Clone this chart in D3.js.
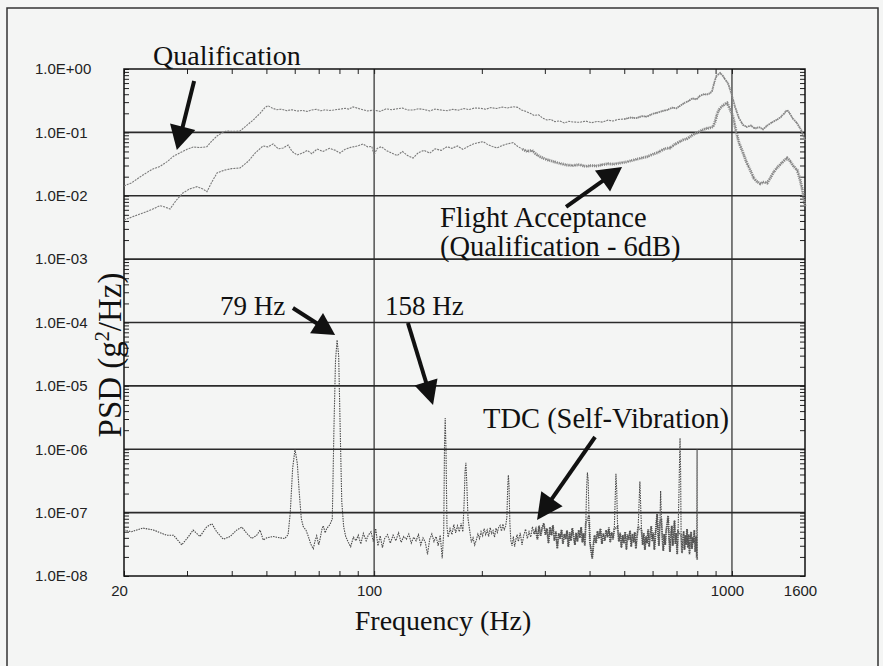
<!DOCTYPE html>
<html>
<head>
<meta charset="utf-8">
<script src="https://cdn.jsdelivr.net/npm/d3@7"></script>
<style>
  html, body { margin: 0; padding: 0; background: #f4f5f4; }
  svg { display: block; }
  .tick line { stroke: #222; stroke-width: 1; }
  .lbl text { font-family: "Liberation Sans", Arial, sans-serif; font-size: 15px; fill: #222; }
  .note { font-family: "Liberation Serif", "Times New Roman", serif; fill: #111; }
</style>
</head>
<body>
<div id="chart"></div>
<script>
// Qualification PSD (g^2/Hz)
const qualFreq = [20, 21, 22.6, 24, 25.2, 26.4, 27.5, 28.7, 30, 31.2, 32.6, 34.1, 35.2, 36.4, 37.5, 38.7, 40.4, 42.2,
  44, 46, 48, 49.5, 50.5, 52, 53.5, 55, 57, 59, 61, 63, 65, 67, 69, 71, 73, 75, 77, 80, 83, 85, 87.3, 90, 93, 96,
  100, 104, 108, 112, 116, 120, 124, 128.5, 133, 138, 143, 148, 154, 160, 166, 172, 178, 184, 191, 198, 205, 212,
  220, 228, 236, 244.6, 252, 258, 265, 272.8, 280, 288, 296, 304, 312, 320, 330, 340, 350, 360, 376, 390, 405, 420,
  435, 450, 465, 480, 500, 520, 540, 560, 579, 600, 620, 640, 660, 680, 700, 716, 735, 755, 775, 795, 815, 835, 850,
  868, 880, 893, 905, 916, 927, 940, 955, 975, 995, 1020, 1045, 1074, 1100, 1130, 1160, 1190, 1222, 1250, 1280, 1303,
  1340, 1370, 1400, 1426, 1450, 1480, 1521, 1560, 1600];
const qualPsd = [0.0143, 0.016, 0.0213, 0.0262, 0.029, 0.0345, 0.042, 0.0478, 0.054, 0.0588, 0.0575, 0.0594, 0.073,
  0.0877, 0.098, 0.105, 0.104, 0.105, 0.128, 0.158, 0.2, 0.245, 0.264, 0.24, 0.228, 0.232, 0.22, 0.228, 0.217, 0.222,
  0.214, 0.226, 0.231, 0.219, 0.227, 0.222, 0.225, 0.232, 0.24, 0.233, 0.252, 0.24, 0.228, 0.218, 0.225, 0.214, 0.235,
  0.228, 0.236, 0.242, 0.226, 0.225, 0.236, 0.229, 0.218, 0.233, 0.225, 0.22, 0.231, 0.224, 0.238, 0.229, 0.243, 0.24,
  0.232, 0.246, 0.238, 0.25, 0.243, 0.254, 0.248, 0.226, 0.215, 0.2, 0.185, 0.19, 0.168, 0.157, 0.16, 0.148, 0.152,
  0.141, 0.149, 0.146, 0.144, 0.151, 0.142, 0.149, 0.145, 0.156, 0.151, 0.16, 0.162, 0.171, 0.168, 0.18, 0.177, 0.196,
  0.205, 0.218, 0.226, 0.245, 0.24, 0.262, 0.29, 0.31, 0.345, 0.33, 0.38, 0.4, 0.395, 0.414, 0.45, 0.62, 0.78, 0.82,
  0.86, 0.8, 0.7, 0.595, 0.42, 0.254, 0.17, 0.131, 0.122, 0.128, 0.115, 0.121, 0.112, 0.126, 0.138, 0.147, 0.16, 0.175,
  0.2, 0.225, 0.2, 0.165, 0.139, 0.11, 0.0758];

// Flight acceptance PSD (g^2/Hz)
const flightFreq = [20, 21, 22.5, 24, 25.2, 26.1, 26.9, 28, 29.2, 30.5, 32, 33.2, 34.1, 35.2, 36.4, 38, 40, 42.2, 44.5,
  46.5, 48.9, 50.5, 52.2, 54, 55.7, 57.5, 59, 60.9, 63, 65, 67, 69.3, 72, 75, 78, 80.3, 83, 86, 90, 93.1, 96, 98.5,
  100, 102, 104.8, 108, 112, 116, 120, 124, 128.5, 133, 138, 143, 148, 154, 159.9, 165, 171, 177, 183, 190, 196, 201.6,
  208, 214, 220.5, 228, 236, 244.6, 252, 260, 268, 276, 284, 291, 300, 310, 320, 333, 346, 360, 375, 390, 405, 419.8,
  435, 450, 465, 486.6, 505, 525, 545, 560, 579, 600, 620, 640, 655, 671.4, 690, 710, 730, 750, 770, 785, 799, 815,
  830, 845, 860, 875, 885.6, 898, 910, 925, 940, 955, 969, 985, 1007, 1025, 1045, 1074, 1100, 1130, 1150, 1175, 1200,
  1230, 1254, 1280, 1310, 1340, 1370, 1400, 1426, 1450, 1480, 1521, 1550, 1575, 1600];
const flightPsd = [0.00414, 0.0046, 0.0053, 0.0061, 0.00697, 0.0066, 0.00618, 0.0085, 0.01105, 0.0128, 0.0139, 0.0128,
  0.01158, 0.0165, 0.0229, 0.0252, 0.0268, 0.0274, 0.035, 0.047, 0.061, 0.059, 0.0656, 0.055, 0.0567, 0.063, 0.05,
  0.044, 0.047, 0.052, 0.046, 0.0547, 0.05, 0.056, 0.052, 0.0473, 0.054, 0.058, 0.061, 0.0656, 0.059, 0.06, 0.044,
  0.056, 0.0594, 0.052, 0.047, 0.043, 0.05, 0.043, 0.0394, 0.048, 0.052, 0.047, 0.055, 0.052, 0.0594, 0.056, 0.061,
  0.054, 0.06, 0.066, 0.069, 0.0713, 0.064, 0.06, 0.0567, 0.062, 0.066, 0.0687, 0.06, 0.054, 0.05, 0.052, 0.045,
  0.0413, 0.038, 0.036, 0.034, 0.032, 0.0305, 0.03, 0.031, 0.029, 0.03, 0.0295, 0.031, 0.032, 0.0315, 0.0329, 0.034,
  0.036, 0.038, 0.0395, 0.0413, 0.045, 0.048, 0.053, 0.056, 0.0567, 0.064, 0.07, 0.076, 0.08, 0.088, 0.095, 0.0978,
  0.105, 0.11, 0.115, 0.117, 0.12, 0.123, 0.15, 0.2, 0.24, 0.26, 0.28, 0.2907, 0.24, 0.177, 0.11, 0.07, 0.0473, 0.033,
  0.024, 0.019, 0.0167, 0.0155, 0.0165, 0.0159, 0.019, 0.024, 0.028, 0.032, 0.036, 0.0394, 0.036, 0.03, 0.0255, 0.018,
  0.012, 0.00672];

// TDC self-vibration PSD (g^2/Hz)
const tdcFreq = [20, 21, 22.6, 24.2, 26.3, 27.5, 29, 30.2, 31.2, 32.6, 34, 35.2, 36.3, 37.9, 39.6, 41.3, 42.7, 44.1,
  45.5, 47, 48, 49, 50.1, 52.3, 54.6, 56.3, 57.5, 58.3, 59.2, 60.1, 61, 61.8, 62.6, 63.4, 64.5, 65.5, 66.5, 67.6, 68.4,
  69.1, 70, 70.6, 71.5, 72.1, 73, 73.7, 75.3, 76.4, 77.2, 78, 78.8, 79.6, 80.4, 81.2, 82.2, 83.3, 84.7, 86, 87.5, 89,
  90.3, 91.8, 93.3, 95, 96.3, 98, 99.5, 101, 102.5, 104, 105.5, 107, 109, 111, 113, 115, 117, 119, 121, 123, 125, 127,
  129, 131, 133, 135, 137, 139, 141, 143, 145, 147, 149, 151, 153, 155, 156.5, 157.3, 158, 158.8, 159.8, 161, 163, 165,
  167, 169, 171, 173, 175, 177, 178.5, 179.5, 180.5, 181.5, 183, 185, 187, 189, 191, 193, 195, 197, 199, 201, 203, 205,
  207, 209, 211, 213, 215, 217, 219, 221, 223, 225, 227, 229, 231, 233, 235, 236.2, 237.2, 238.2, 239.5, 241, 243, 245,
  247, 249, 251, 253, 256, 259, 262, 265, 268, 271, 274, 277, 280, 283, 286, 289, 292, 295, 298, 301, 304, 307, 310,
  313, 316, 319, 322, 325, 328, 331, 334, 337, 340, 343, 346, 349, 352, 355, 358, 361, 364, 367, 370, 373, 376, 379,
  382, 385, 388, 390.5, 392.5, 394.5, 396.5, 398.5, 401, 404, 407, 410, 413, 417, 421, 425, 429, 433, 437, 441, 445,
  449, 453, 457, 461, 465, 469, 471.5, 474, 476.5, 479, 483, 487, 491, 495, 499, 503, 507, 511, 515, 519, 523, 527,
  531, 535, 539, 543, 547, 550, 553, 556, 559, 563, 567, 571, 575, 579, 583, 587, 591, 595, 599, 603, 607, 611, 615,
  618, 621, 625, 629, 632, 635, 639, 643, 647, 651, 655, 659, 663, 667, 671, 675, 679, 683, 687, 691, 695, 699, 703,
  707, 711, 713.5, 716, 718.5, 721, 725, 729, 733, 737, 741, 745, 749, 753, 757, 761, 765, 769, 773, 777, 781, 785,
  789, 793, 795, 797, 799, 800];
const tdcPsd = [5.3e-8, 5.0e-8, 5.7e-8, 5.3e-8, 4.4e-8, 4.4e-8, 3.1e-8, 4.1e-8, 5.3e-8, 4.2e-8, 5.9e-8, 6.7e-8,
  5.0e-8, 3.8e-8, 4.2e-8, 5.3e-8, 5.9e-8, 4.7e-8, 3.9e-8, 4.4e-8, 5.3e-8, 3.7e-8, 4.0e-8, 4.2e-8, 4.0e-8, 3.9e-8,
  4.5e-8, 1.0e-7, 5e-7, 1.0e-6, 6e-7, 2.0e-7, 8e-8, 6.0e-8, 5.3e-8, 4.2e-8, 3.2e-8, 2.7e-8, 3.6e-8, 4.3e-8, 3.1e-8,
  3.8e-8, 5.5e-8, 6.2e-8, 4.8e-8, 5.6e-8, 6.5e-8, 8e-8, 2e-6, 2.5e-5, 5.3e-5, 3.0e-5, 2e-6, 1.5e-7, 6e-8, 4.2e-8,
  3.4e-8, 2.9e-8, 4.1e-8, 3.6e-8, 4.4e-8, 3.2e-8, 4.7e-8, 3.6e-8, 4.4e-8, 5.0e-8, 3.5e-8, 5.6e-8, 3.0e-8, 4.3e-8,
  2.8e-8, 3.9e-8, 4.5e-8, 3.3e-8, 4.4e-8, 3.6e-8, 4.8e-8, 3.4e-8, 4.2e-8, 3.8e-8, 4.6e-8, 3.3e-8, 4.1e-8, 3.6e-8,
  4.5e-8, 3.1e-8, 4.0e-8, 3.4e-8, 2.2e-8, 3.8e-8, 4.6e-8, 3.5e-8, 4.2e-8, 3.0e-8, 4.4e-8, 1.9e-8, 5e-8, 1.2e-6,
  3.1e-6, 1.0e-6, 6e-8, 4.1e-8, 5.6e-8, 4.5e-8, 6.5e-8, 4.8e-8, 6.2e-8, 5.0e-8, 6.8e-8, 5.0e-8, 1.5e-7, 4.5e-7,
  6.1e-7, 3.0e-7, 8e-8, 5.2e-8, 3.4e-8, 4.0e-8, 3.1e-8, 3.7e-8, 4.6e-8, 3.9e-8, 5.0e-8, 4.3e-8, 5.6e-8, 4.5e-8,
  5.3e-8, 4.2e-8, 5.8e-8, 4.7e-8, 5.2e-8, 4.1e-8, 5.7e-8, 4.9e-8, 5.9e-8, 6.3e-8, 5.1e-8, 6.6e-8, 5.4e-8, 6.0e-8,
  8.5e-8, 2.5e-7, 3.9e-7, 2.8e-7, 7e-8, 3.6e-8, 3.0e-8, 4.2e-8, 2.9e-8, 3.8e-8, 4.5e-8, 3.5e-8, 4.8e-8, 3.1e-8,
  4.4e-8, 5.5e-8, 3.9e-8, 5.0e-8, 4.1e-8, 6.0e-8, 4.6e-8, 5.4e-8, 3.8e-8, 6.2e-8, 4.3e-8, 5.8e-8, 6.8e-8, 4.5e-8,
  5.6e-8, 3.3e-8, 5.9e-8, 4.4e-8, 6.3e-8, 3.6e-8, 5.0e-8, 2.7e-8, 4.7e-8, 3.9e-8, 5.4e-8, 3.2e-8, 4.6e-8, 3.8e-8,
  5.2e-8, 2.9e-8, 4.9e-8, 3.6e-8, 5.7e-8, 4.2e-8, 3.1e-8, 4.8e-8, 3.5e-8, 5.3e-8, 4.0e-8, 5.9e-8, 3.4e-8, 4.7e-8,
  3.0e-8, 7e-8, 2.5e-7, 4.3e-7, 3.2e-7, 9e-8, 3.4e-8, 2.5e-8, 1.9e-8, 3.1e-8, 4.4e-8, 3.3e-8, 5.1e-8, 3.9e-8, 5.6e-8,
  3.2e-8, 4.7e-8, 3.6e-8, 5.3e-8, 4.1e-8, 5.8e-8, 3.4e-8, 4.9e-8, 3.8e-8, 5.5e-8, 1.5e-7, 4.1e-7, 2.2e-7, 6e-8,
  3.5e-8, 4.8e-8, 2.8e-8, 4.4e-8, 3.3e-8, 5.0e-8, 2.6e-8, 4.5e-8, 3.7e-8, 5.2e-8, 2.9e-8, 4.6e-8, 3.4e-8, 4.9e-8,
  2.7e-8, 4.3e-8, 6.0e-8, 1.4e-7, 3.1e-7, 1.2e-7, 5.2e-8, 3.1e-8, 4.7e-8, 2.6e-8, 4.2e-8, 3.3e-8, 5.4e-8, 2.9e-8,
  4.6e-8, 6.1e-8, 3.5e-8, 4.8e-8, 2.6e-8, 4.4e-8, 7.0e-8, 9.5e-8, 5.2e-8, 3.0e-8, 7e-8, 2.2e-7, 8e-8, 3.9e-8, 2.5e-8,
  4.6e-8, 3.1e-8, 5.3e-8, 6.5e-8, 9.0e-8, 4.0e-8, 2.4e-8, 4.5e-8, 6.2e-8, 3.0e-8, 4.3e-8, 7.5e-8, 3.2e-8, 4.8e-8,
  2.2e-8, 5.0e-8, 2.0e-7, 6e-7, 1.5e-6, 5e-7, 4.4e-8, 2.3e-8, 3.8e-8, 5.1e-8, 2.6e-8, 4.4e-8, 3.1e-8, 5.5e-8, 2.8e-8,
  4.5e-8, 2.2e-8, 3.9e-8, 5.0e-8, 2.7e-8, 4.1e-8, 3.3e-8, 5.3e-8, 2.4e-8, 4.0e-8, 4.2e-8, 2.0e-8, 1.0e-6, 1.8e-8,
  3.5e-8];

const xLabelTicks = [20, 100, 1000, 1600];
const yLabelTicks = [1, 1e-1, 1e-2, 1e-3, 1e-4, 1e-5, 1e-6, 1e-7, 1e-8];
const yLabelText = ["1.0E+00", "1.0E-01", "1.0E-02", "1.0E-03", "1.0E-04", "1.0E-05", "1.0E-06", "1.0E-07", "1.0E-08"];
const xGrid = [100, 1000];

const W = 883, H = 666;
const plot = { left: 124, right: 805, top: 69, bottom: 576 };

const svg = d3.select("#chart").append("svg").attr("width", W).attr("height", H);

// scanned-page frame
svg.append("rect").attr("x", 7).attr("y", 8).attr("width", 871).attr("height", 700)
  .attr("fill", "none").attr("stroke", "#333").attr("stroke-width", 1.5);

const x = d3.scaleLog().domain([20, 1600]).range([plot.left, plot.right]);
const y = d3.scaleLog().domain([1e-8, 1]).range([plot.bottom, plot.top]);

// grid
svg.append("g").selectAll("line").data(yLabelTicks.slice(1, -1)).join("line")
  .attr("x1", plot.left).attr("x2", plot.right)
  .attr("y1", d => y(d)).attr("y2", d => y(d))
  .attr("stroke", "#2a2a2a").attr("stroke-width", 1.6);
svg.append("g").selectAll("line").data(xGrid).join("line")
  .attr("x1", d => x(d)).attr("x2", d => x(d))
  .attr("y1", plot.top).attr("y2", plot.bottom)
  .attr("stroke", "#2a2a2a").attr("stroke-width", 1.2);

// minor ticks on all four sides, pointing inward
const noLabel = () => "";
svg.append("g").attr("transform", `translate(0,${plot.bottom})`)
  .call(d3.axisBottom(x).tickValues(x.ticks()).tickSize(-5).tickFormat(noLabel))
  .call(g => g.select(".domain").remove());
svg.append("g").attr("transform", `translate(0,${plot.top})`)
  .call(d3.axisTop(x).tickValues(x.ticks()).tickSize(-5).tickFormat(noLabel))
  .call(g => g.select(".domain").remove());
svg.append("g").attr("transform", `translate(${plot.left},0)`)
  .call(d3.axisLeft(y).tickValues(y.ticks()).tickSize(-5).tickFormat(noLabel))
  .call(g => g.select(".domain").remove());
svg.append("g").attr("transform", `translate(${plot.right},0)`)
  .call(d3.axisRight(y).tickValues(y.ticks()).tickSize(-5).tickFormat(noLabel))
  .call(g => g.select(".domain").remove());

// tick labels
svg.append("g").attr("class", "lbl").attr("transform", `translate(0,${plot.bottom})`)
  .call(d3.axisBottom(x).tickValues(xLabelTicks).tickSize(0).tickPadding(9).tickFormat(d3.format("d")))
  .call(g => g.select(".domain").remove())
  .call(g => g.selectAll("text").attr("dx", -5));
svg.append("g").attr("class", "lbl").attr("transform", `translate(${plot.left},0)`)
  .call(d3.axisLeft(y).tickValues(yLabelTicks).tickSize(0).tickFormat((d, i) => yLabelText[i]))
  .call(g => g.select(".domain").remove())
  .call(g => g.selectAll("text").attr("text-anchor", "start").attr("x", 35 - plot.left));

// plot frame
svg.append("rect").attr("x", plot.left).attr("y", plot.top)
  .attr("width", plot.right - plot.left).attr("height", plot.bottom - plot.top)
  .attr("fill", "none").attr("stroke", "#111").attr("stroke-width", 1.5);

// curves
const line = d3.line().x(d => x(d[0])).y(d => y(d[1]));
const zip = (a, b) => a.map((f, i) => [f, b[i]]);

svg.append("path").datum(zip(qualFreq, qualPsd))
  .attr("d", line).attr("fill", "none")
  .attr("stroke", "#7a7a7a").attr("stroke-width", 1.1).attr("stroke-dasharray", "2,1");
svg.append("path").datum(zip(qualFreq, qualPsd).filter(d => d[0] >= 500))
  .attr("d", line).attr("fill", "none")
  .attr("stroke", "#8a8a8a").attr("stroke-width", 2).attr("stroke-dasharray", "1,1");
svg.append("path").datum(zip(flightFreq, flightPsd))
  .attr("d", line).attr("fill", "none")
  .attr("stroke", "#7a7a7a").attr("stroke-width", 1.1).attr("stroke-dasharray", "2,1");
svg.append("path").datum(zip(flightFreq, flightPsd).filter(d => d[0] >= 260))
  .attr("d", line).attr("fill", "none")
  .attr("stroke", "#8a8a8a").attr("stroke-width", 3).attr("stroke-dasharray", "1,1");
svg.append("path").datum(zip(tdcFreq, tdcPsd))
  .attr("d", line).attr("fill", "none")
  .attr("stroke", "#4a4a4a").attr("stroke-width", 1.1).attr("stroke-dasharray", "1.5,1");
svg.append("path").datum(zip(tdcFreq, tdcPsd).filter(d => d[0] >= 280 && d[1] < 1e-7))
  .attr("d", line).attr("fill", "none")
  .attr("stroke", "#555").attr("stroke-width", 2).attr("stroke-dasharray", "1,1");

// annotation arrows, end points in data units [freq, psd]
const arrows = [
  { from: [31.4, 0.647], to: [28.1, 0.0527], len: 24, half: 13 },
  { from: [343.9, 0.00665], to: [493, 0.0284], len: 24, half: 13 },
  { from: [59.3, 1.69e-4], to: [77.8, 6.35e-5], len: 22, half: 12 },
  { from: [124.3, 9.82e-5], to: [146.1, 4.99e-6], len: 24, half: 12 },
  { from: [414.4, 1.56e-6], to: [285.3, 7.65e-8], len: 26, half: 13 }
];
arrows.forEach(a => {
  const x0 = x(a.from[0]), y0 = y(a.from[1]), x1 = x(a.to[0]), y1 = y(a.to[1]);
  const dx = x1 - x0, dy = y1 - y0, l = Math.hypot(dx, dy);
  const ux = dx / l, uy = dy / l;
  const bx = x1 - ux * a.len, by = y1 - uy * a.len;
  svg.append("line").attr("x1", x0).attr("y1", y0).attr("x2", bx + ux * 2).attr("y2", by + uy * 2)
    .attr("stroke", "#111").attr("stroke-width", 4);
  svg.append("polygon")
    .attr("points", [[x1, y1], [bx - uy * a.half, by + ux * a.half], [bx + uy * a.half, by - ux * a.half]].join(" "))
    .attr("fill", "#111");
});

// annotation text
const notes = [
  { t: "Qualification", x: 153, y: 65, s: 28 },
  { t: "Flight Acceptance", x: 440, y: 227, s: 28.5 },
  { t: "(Qualification - 6dB)", x: 440, y: 256, s: 28.5 },
  { t: "79 Hz", x: 220, y: 315, s: 27 },
  { t: "158 Hz", x: 385, y: 315, s: 27 },
  { t: "TDC (Self-Vibration)", x: 483, y: 428, s: 28.5 }
];
svg.append("g").selectAll("text").data(notes).join("text")
  .attr("class", "note").attr("x", d => d.x).attr("y", d => d.y)
  .style("font-size", d => d.s + "px").text(d => d.t);

svg.append("text").attr("class", "note").attr("x", 443).attr("y", 630)
  .attr("text-anchor", "middle").style("font-size", "28px").text("Frequency (Hz)");

const ylab = svg.append("text").attr("class", "note")
  .attr("transform", "translate(121,355) rotate(-90)")
  .attr("text-anchor", "middle").style("font-size", "33px");
ylab.append("tspan").text("PSD (g");
ylab.append("tspan").attr("dy", -12).style("font-size", "20px").text("2");
ylab.append("tspan").attr("dy", 12).text("/Hz)");
</script>
</body>
</html>
